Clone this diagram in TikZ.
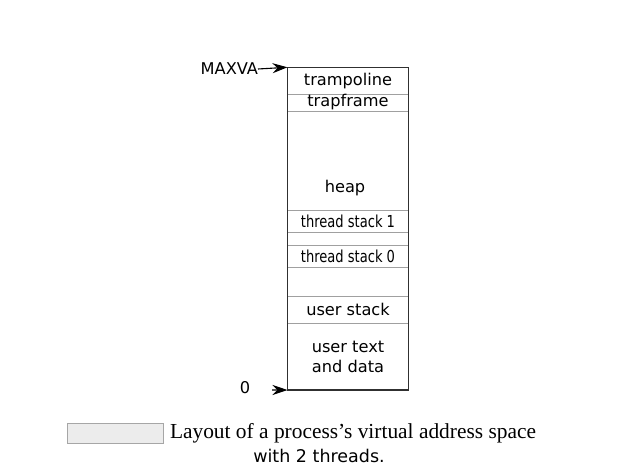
\documentclass[tikz,border=0pt]{standalone}
\usepackage{fontspec}
\setmainfont{Liberation Serif}
\newfontfamily\dvsans{DejaVu Sans}
\newfontfamily\dvcond[FakeStretch=0.88]{DejaVu Sans Condensed}
\usetikzlibrary{arrows.meta,positioning}
\definecolor{divgray}{HTML}{A0A0A0}
\definecolor{framegray}{HTML}{303030}
\begin{document}
\begin{tikzpicture}[
x=1pt, y=-1pt,
every node/.style = {inner sep=0pt, outer sep=0pt},
region/.style = {shape=rectangle, draw=divgray, line width=0.9pt, minimum width=121pt,
                 anchor=north west, align=center, font=\dvsans\fontsize{16.2}{20}\selectfont},
thin region/.style = {region, font=\dvcond\fontsize{16.5}{18}\selectfont},
lbl/.style = {font=\dvsans\fontsize{16.2}{20}\selectfont},
frame/.style = {draw=framegray, line width=1.3pt},
pointer/.style = {-{Stealth[length=15pt,width=10pt,inset=5pt]}, line width=1.1pt, color=black},
]
  \useasboundingbox (0,0) rectangle (640,471);
  % the address space, top to bottom
  \node[region, minimum height=26.7pt] (tramp) at (287.5,67.3) {trampoline};
  \node[region, minimum height=17pt, below=0pt of tramp.south west, anchor=north west] (tframe) {trapframe};
  \node[region, minimum height=99.7pt, below=0pt of tframe.south west, anchor=north west] (heap) {};
  \node[thin region, minimum height=22pt, below=0pt of heap.south west, anchor=north west] (tstack1) {thread stack 1};
  \node[region, minimum height=13pt, below=0pt of tstack1.south west, anchor=north west] (gap) {};
  \node[thin region, minimum height=22pt, below=0pt of gap.south west, anchor=north west] (tstack0) {thread stack 0};
  \node[region, minimum height=28.3pt, below=0pt of tstack0.south west, anchor=north west] (free) {};
  \node[region, minimum height=27.3pt, below=0pt of free.south west, anchor=north west] (ustack) {user stack};
  \node[region, minimum height=66.7pt, below=0pt of ustack.south west, anchor=north west] (utext) {user text\\and data};
  \node[lbl] (heaplbl) at (345,188) {heap};
  \draw[frame] (tramp.north west) rectangle (utext.south east);
  % limits
  \node[lbl, anchor=east] (maxva) at (258,69) {MAXVA};
  \node[lbl] (zero) at (245,388) {0};
  \coordinate (zerotail) at (272,390);
  \draw[pointer] (maxva.east) -- (tramp.north west);
  \draw[pointer] (zerotail) -- (utext.south west);
  % caption
  \node[draw=gray!70, fill=gray!15, minimum width=96pt, minimum height=20pt] (capbox) at (115,433) {};
  \node[anchor=west, font=\fontsize{21.4}{24}\selectfont] (captext) at (170,433) {Layout of a process’s virtual address space};
  \node[font=\dvsans\fontsize{17.5}{21}\selectfont] (capline) at (319,456) {with 2 threads.};
\end{tikzpicture}
\end{document}
